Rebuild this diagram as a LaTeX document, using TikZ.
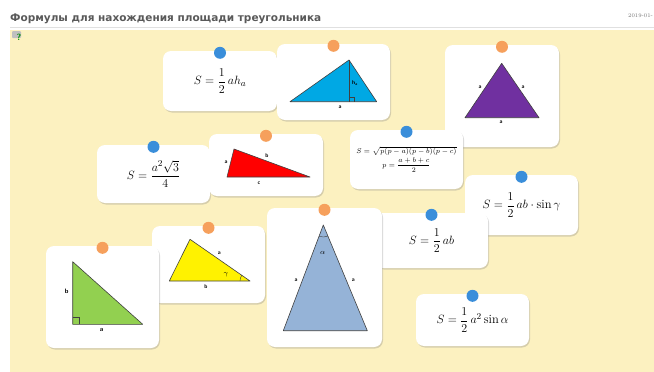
\documentclass[tikz,border=0pt]{standalone}
\usepackage{fontspec}
\usepackage{amsmath}
\usetikzlibrary{shadows}
\newfontfamily\titlefont{DejaVu Sans}
\definecolor{boardyellow}{RGB}{252,241,192}
\definecolor{pinblue}{RGB}{58,142,218}
\definecolor{pinorange}{RGB}{246,160,92}
\definecolor{triblue}{RGB}{0,168,228}
\definecolor{tripurple}{RGB}{112,48,160}
\definecolor{trigreen}{RGB}{146,208,80}
\definecolor{trisky}{RGB}{149,179,215}
\begin{document}
\begin{tikzpicture}[x=1pt, y=-1pt,
  card/.style = {fill=white, rounded corners=8pt, inner sep=0pt,
    drop shadow={shadow xshift=1pt, shadow yshift=-1.5pt, opacity=0.3}},
  bluepin/.style = {circle, fill=pinblue, inner sep=0pt, minimum size=12pt},
  orangepin/.style = {circle, fill=pinorange, inner sep=0pt, minimum size=12pt},
  fml/.style = {font=\fontsize{12.5}{14}\selectfont},
  smallfml/.style = {font=\fontsize{7}{8}\selectfont},
  trilbl/.style = {font=\fontsize{5.5}{6}\selectfont\sffamily\bfseries, inner sep=0pt},
  triedge/.style = {draw=black!75, line width=0.6pt, line join=round}
]
  \clip (0,0) rectangle (654,372);
  % page
  \fill[white] (0,0) rectangle (654,372);
  \node[anchor=base west, text=black!65, font=\titlefont\bfseries\fontsize{10.5}{12}\selectfont,
    inner sep=0pt] (title) at (10,21) {Формулы для нахождения площади треугольника};
  \node[anchor=base west, text=black!55, font=\fontsize{5.5}{6}\selectfont,
    inner sep=0pt] (date) at (628,17) {2019-01-};
  \draw[black!12, line width=0.8pt] (10,27) -- (654,27);
  \fill[boardyellow] (10,30) rectangle (654,372);
  % help icon
  \fill[black!25, rounded corners=1pt] (12,31) rectangle (21,38);
  \node[text=green!55!black, font=\sffamily\bfseries\fontsize{9}{9}\selectfont,
    inner sep=0pt] (help) at (19,37) {?};

  % S = 1/2 a h_a
  \node[card, minimum width=114pt, minimum height=60pt, fml] (cAh) at (220,81)
    {$S=\dfrac{1}{2}\,ah_a$};
  \node[bluepin] (pAh) at ([yshift=-2pt]cAh.north) {};

  % blue triangle with height
  \node[card, minimum width=113pt, minimum height=76pt] (cHt) at (333.5,82) {};
  \fill[triblue, triedge] (290,101.7) -- (349,60) -- (376.7,101.7) -- cycle;
  \draw[black!75, line width=0.6pt] (349,60) -- (349,101.7);
  \draw[black!75, line width=0.4pt] (349,97) -- (353.7,97) -- (353.7,101.7);
  \node[trilbl] (lHt) at (355,83) {h\textsubscript{a}};
  \node[trilbl] (lHa) at (340,107) {a};
  \node[orangepin] (pHt) at ([yshift=-2pt]cHt.north) {};

  % equilateral triangle
  \node[card, minimum width=114pt, minimum height=102pt] (cEq) at (502,96) {};
  \fill[tripurple, triedge] (465,117.7) -- (501.7,63.3) -- (539,117.7) -- cycle;
  \node[trilbl] (lEq1) at (480,87.7) {a};
  \node[trilbl] (lEq2) at (523,87.7) {a};
  \node[trilbl] (lEq3) at (501,122) {a};
  \node[orangepin] (pEq) at ([yshift=-2pt]cEq.north) {};

  % Heron
  \node[card, minimum width=113pt, minimum height=59pt, smallfml, align=center] (cHe) at (406.5,159.5)
    {$S=\sqrt{p(p-a)(p-b)(p-c)}$\\[1pt] $p=\dfrac{a+b+c}{2}$};
  \node[bluepin] (pHe) at ([yshift=-2pt]cHe.north) {};

  % S = 1/2 ab sin gamma
  \node[card, minimum width=113pt, minimum height=60pt, fml] (cSg) at (521.5,205)
    {$S=\dfrac{1}{2}\,ab\cdot\sin\gamma$};
  \node[bluepin] (pSg) at ([yshift=-2pt]cSg.north) {};

  % S = a^2 sqrt3 / 4
  \node[card, minimum width=113pt, minimum height=58pt, fml] (cSq) at (153.5,174)
    {$S=\dfrac{a^2\sqrt{3}}{4}$};
  \node[bluepin] (pSq) at ([yshift=-2pt]cSq.north) {};

  % red triangle
  \node[card, minimum width=114pt, minimum height=62pt] (cRd) at (266,165) {};
  \fill[red, triedge] (234,149) -- (227,177) -- (310,177) -- cycle;
  \node[trilbl] (lRa) at (226,162) {a};
  \node[trilbl] (lRb) at (267,156) {b};
  \node[trilbl] (lRc) at (259,183) {c};
  \node[orangepin] (pRd) at ([yshift=-2pt]cRd.north) {};

  % yellow triangle
  \node[card, minimum width=113pt, minimum height=77pt] (cYe) at (208.5,264.5) {};
  \fill[yellow, triedge] (190,239.3) -- (169.3,281) -- (250,281) -- cycle;
  \draw[black!75, line width=0.4pt] (240,281) arc[start angle=180, end angle=215, radius=10];
  \node[trilbl] (lYa) at (219.3,253.3) {a};
  \node[trilbl] (lYb) at (206,287) {b};
  \node[trilbl, font=\fontsize{7}{7}\selectfont] (lYg) at (226,275) {$\gamma$};
  \node[orangepin] (pYe) at ([yshift=-2pt]cYe.north) {};

  % green right triangle
  \node[card, minimum width=113pt, minimum height=102pt] (cGr) at (102.5,297) {};
  \fill[trigreen, triedge] (72.7,261.7) -- (72.7,324.3) -- (142.7,324.3) -- cycle;
  \draw[black!75, line width=0.5pt] (72.7,317.3) -- (79.7,317.3) -- (79.7,324.3);
  \node[trilbl, font=\fontsize{6.5}{7}\selectfont\sffamily\bfseries] (lGb) at (66.7,291.7) {b};
  \node[trilbl, font=\fontsize{6.5}{7}\selectfont\sffamily\bfseries] (lGa) at (101.7,329.5) {a};
  \node[orangepin] (pGr) at ([yshift=-2pt]cGr.north) {};

  % S = 1/2 ab
  \node[card, minimum width=113pt, minimum height=55pt, fml] (cAb) at (431.5,240.5)
    {$S=\dfrac{1}{2}\,ab$};
  \node[bluepin] (pAb) at ([yshift=-2pt]cAb.north) {};

  % isosceles triangle
  \node[card, minimum width=115pt, minimum height=139pt] (cIs) at (324.5,277.5) {};
  \fill[trisky, triedge] (323.3,225) -- (283.3,330.7) -- (367.3,330.7) -- cycle;
  \draw[black!75, line width=0.4pt] (327.9,236.1) arc[start angle=67.5, end angle=110.7, radius=12];
  \node[trilbl, font=\fontsize{7}{7}\selectfont] (lIal) at (322.7,252.7) {$\alpha$};
  \node[trilbl] (lIa1) at (296,280.7) {a};
  \node[trilbl] (lIa2) at (353.3,280.7) {a};
  \node[orangepin] (pIs) at ([yshift=-2pt]cIs.north) {};

  % S = 1/2 a^2 sin alpha
  \node[card, minimum width=113pt, minimum height=52pt, fml] (cSa) at (472.5,320)
    {$S=\dfrac{1}{2}\,a^2\sin\alpha$};
  \node[bluepin] (pSa) at ([yshift=-2pt]cSa.north) {};
\end{tikzpicture}
\end{document}
